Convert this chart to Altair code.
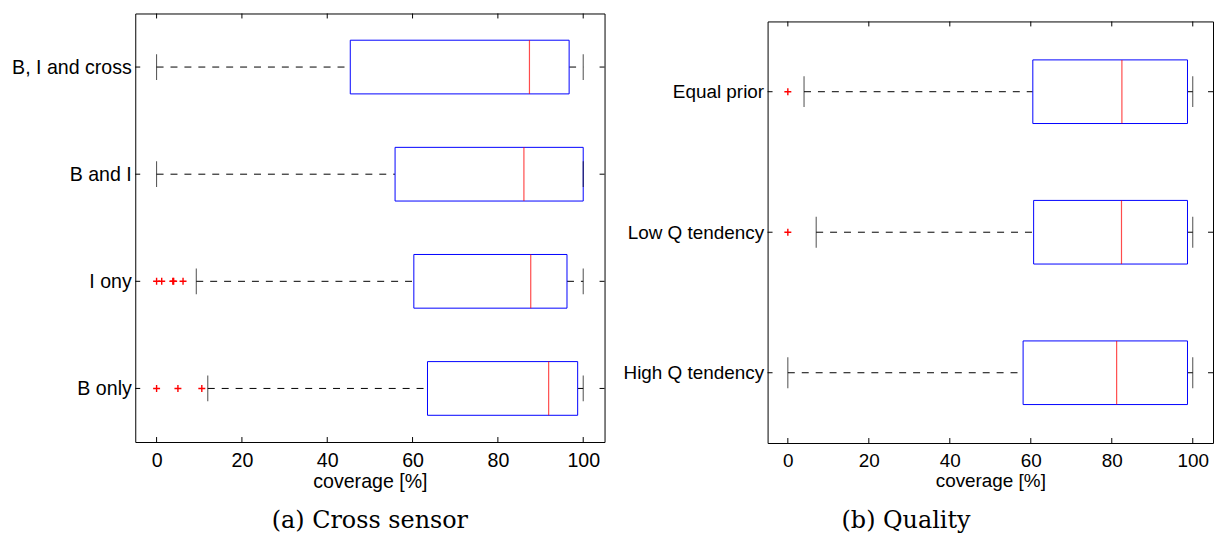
import altair as alt
import pandas as pd

# ---------------- data ----------------
left_cats = ["B, I and cross", "B and I", "I ony", "B only"]
left_lo = [0.0, 0.0, 9.3, 12.0]
left_q1 = [45.4, 55.9, 60.3, 63.5]
left_med = [87.4, 86.1, 87.7, 91.9]
left_q3 = [96.7, 100.0, 96.2, 98.7]
left_hi = [100.0, 100.0, 100.0, 100.0]
left_out_cat = ["I ony", "I ony", "I ony", "I ony", "I ony", "B only", "B only", "B only"]
left_out_val = [0.0, 1.2, 3.8, 4.0, 6.2, 0.0, 5.0, 10.6]

right_cats = ["Equal prior", "Low Q tendency", "High Q tendency"]
right_lo = [4.0, 7.0, 0.0]
right_q1 = [60.5, 60.7, 58.1]
right_med = [82.5, 82.4, 81.2]
right_q3 = [98.7, 98.7, 98.7]
right_hi = [100.0, 100.0, 100.0]
right_out_cat = ["Equal prior", "Low Q tendency"]
right_out_val = [0.0, 0.0]

x_ticks = [0, 20, 40, 60, 80, 100]

SANS = "Liberation Sans"
SERIF = "DejaVu Serif"
PLUS = "M-1,0L1,0M0,-1L0,1"


def panel(cats, lo, q1, med, q3, hi, out_cat, out_val, width, height,
          box_h, cap_h, y_extent, fs):
    stats = pd.DataFrame({"cat": cats, "lo": lo, "q1": q1, "med": med,
                          "q3": q3, "hi": hi})
    outs = pd.DataFrame({"cat": out_cat, "val": out_val})
    ticks = pd.DataFrame({"t": x_ticks})
    cat_df = pd.DataFrame({"cat": cats})

    xscale = alt.Scale(domain=[-5, 105], nice=False, zero=False)
    yscale = alt.Scale(type="point", domain=cats, padding=0.5)
    xaxis = alt.Axis(values=x_ticks, ticks=False, domain=False, grid=False,
                     labelPadding=9, labelFontSize=fs, labelFont=SANS,
                     labelColor="black", title="coverage [%]",
                     titleFont=SANS, titleFontSize=fs,
                     titleFontWeight="normal", titleColor="black",
                     titlePadding=1)
    yaxis = alt.Axis(ticks=False, domain=False, grid=False, labelPadding=4,
                     labelFontSize=fs, labelFont=SANS, labelColor="black",
                     title=None, minExtent=y_extent, maxExtent=y_extent,
                     labelLimit=300)

    def X(f):
        return alt.X(f, type="quantitative", scale=xscale, axis=xaxis)

    def Y(f="cat"):
        return alt.Y(f, type="nominal", scale=yscale, axis=yaxis)

    base = alt.Chart(stats)
    w1 = base.mark_rule(color="black", strokeDash=[7, 7], strokeWidth=1).encode(
        x=X("lo"), x2="q1", y=Y())
    w2 = base.mark_rule(color="black", strokeDash=[7, 7], strokeWidth=1).encode(
        x=X("q3"), x2="hi", y=Y())
    box = base.mark_bar(size=box_h, fill="white", stroke="#0000ff",
                        strokeWidth=1).encode(x=X("q1"), x2="q3", y=Y())
    medm = base.mark_tick(orient="vertical", size=box_h, thickness=1.2,
                          color="#ff0000").encode(x=X("med"), y=Y())
    cap1 = base.mark_tick(orient="vertical", size=cap_h, thickness=1,
                          color="black").encode(x=X("lo"), y=Y())
    cap2 = base.mark_tick(orient="vertical", size=cap_h, thickness=1,
                          color="black").encode(x=X("hi"), y=Y())
    pts = alt.Chart(outs).mark_point(shape=PLUS, size=49, filled=False,
                                     color="#ff0000", strokeWidth=1.4,
                                     opacity=1).encode(x=X("val"), y=Y())
    tb = alt.Chart(ticks).mark_rule(color="black", strokeWidth=1).encode(
        x=X("t"), y=alt.value(height), y2=alt.value(height - 5))
    tt = alt.Chart(ticks).mark_rule(color="black", strokeWidth=1).encode(
        x=X("t"), y=alt.value(0), y2=alt.value(5))
    yl = alt.Chart(cat_df).mark_rule(color="black", strokeWidth=1).encode(
        y=Y(), x=alt.value(0), x2=alt.value(5))
    yr = alt.Chart(cat_df).mark_rule(color="black", strokeWidth=1).encode(
        y=Y(), x=alt.value(width - 5), x2=alt.value(width))

    return alt.layer(w1, w2, box, medm, cap1, cap2, pts, tb, tt, yl, yr).properties(
        width=width, height=height,
        view=alt.ViewBackground(stroke="black", strokeWidth=1))


caption_style = dict(orient="bottom", font=SERIF, fontSize=24,
                     fontWeight="normal", color="black", anchor="middle",
                     offset=18)

left = panel(left_cats, left_lo, left_q1, left_med, left_q3, left_hi,
             left_out_cat, left_out_val, 472, 431, 54, 26, 127, 19.7).properties(
    title=alt.TitleParams("(a) Cross sensor", **caption_style))

right_main = panel(right_cats, right_lo, right_q1, right_med, right_q3,
                   right_hi, right_out_cat, right_out_val, 448, 424, 64, 31,
                   150, 19)

spacer = alt.Chart(pd.DataFrame({"a": [0]})).mark_point(opacity=0).properties(
    width=1, height=6, view=alt.ViewBackground(stroke="transparent"))

right = alt.vconcat(spacer, right_main, spacing=0).properties(
    title=alt.TitleParams("(b) Quality", dx=-10, **caption_style))

chart = alt.hconcat(left, right, spacing=12).properties(
    padding={"left": 0, "top": 3, "right": 0, "bottom": 0}
).configure(background="white")

chart.save("out.html", embed_options={"renderer": "svg", "actions": False})
